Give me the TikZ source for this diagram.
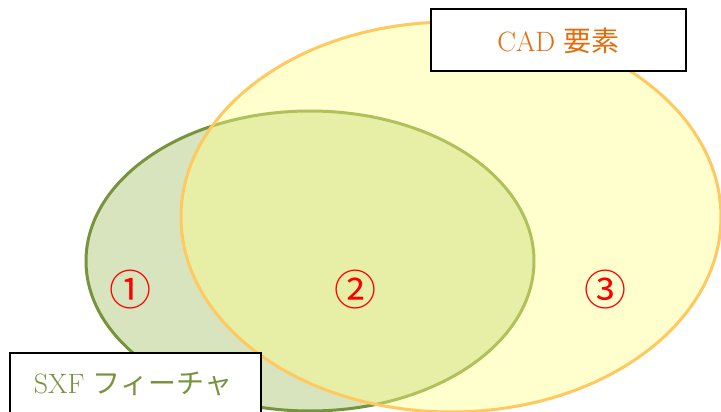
\documentclass[tikz,border=0pt]{standalone}
\usepackage{fontspec}
\newfontfamily\jp{Noto Sans CJK JP}
\definecolor{grfill}{HTML}{D7E4BD}
\definecolor{grline}{HTML}{77933C}
\definecolor{yefill}{HTML}{FFFF88}
\definecolor{yeline}{HTML}{FFC960}
\definecolor{cadtxt}{HTML}{E46C0A}
\tikzset{
  lbox/.style={draw=black, line width=2pt, fill=white, minimum width=255pt, minimum height=62pt, inner sep=0pt},
  num/.style={text=red, font=\jp\fontsize{42}{44}\selectfont, inner sep=0pt}
}
\begin{document}
\begin{tikzpicture}[x=1pt,y=-1pt]
\useasboundingbox (0,0) rectangle (721,412);
\clip (0,0) rectangle (721,412);
\fill[white] (0,0) rectangle (721,412);
% green ellipse
\draw[grline, fill=grfill, line width=3pt] (310,261) ellipse [x radius=224, y radius=150];
% yellow ellipse
\draw[yeline, line width=3pt, fill=yefill, fill opacity=0.42] (451,217) ellipse [x radius=270, y radius=195];
% labels
\node[lbox] (cad) at (558.5,40.5) {};
\node[text=cadtxt, font=\fontsize{28}{32}\selectfont] (cadt) at (cad.center) {CAD {\jp 要素}};
\node[lbox, minimum width=251pt] (sxf) at (135.5,384) {};
\node[text=grline, font=\fontsize{28}{32}\selectfont] (sxft) at (133,384) {SXF {\jp フィーチャ}};
\node[num] (n1) at (130,290) {①};
\node[num] (n2) at (355,290) {②};
\node[num] (n3) at (605,290) {③};
\end{tikzpicture}
\end{document}
